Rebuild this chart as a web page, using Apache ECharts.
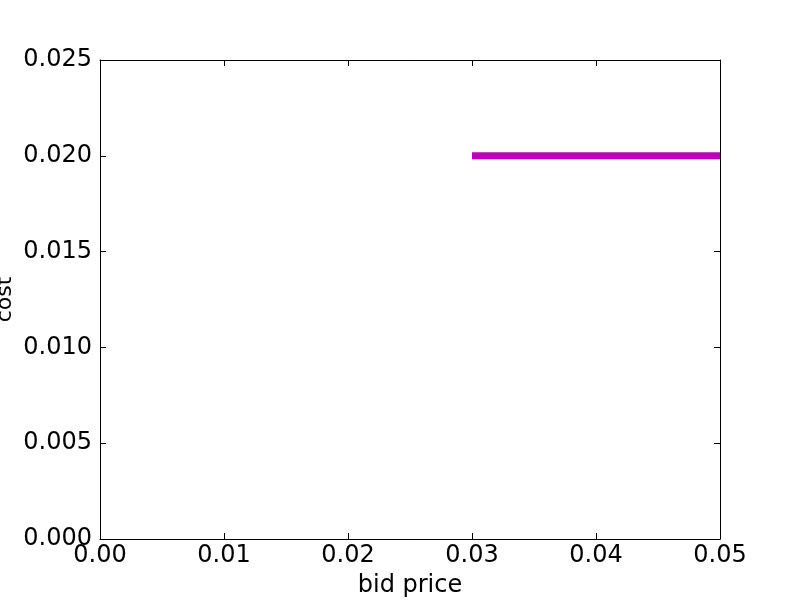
<!DOCTYPE html>
<html>
<head>
<meta charset="utf-8">
<script src="https://cdn.jsdelivr.net/npm/echarts@6/dist/echarts.min.js"></script>
<style>
  html, body { margin: 0; padding: 0; background: #fff; }
  #chart { width: 800px; height: 600px; }
</style>
</head>
<body>
<div id="chart"></div>
<script>
// 数据：出价 vs 成本
const bidPrice = [0.03, 0.05]
const cost = [0.02, 0.02]

const xRange = [0, 0.05]
const yRange = [0, 0.025]
const xStep = 0.01
const yStep = 0.005

const font = 'DejaVu Sans'
const fontSize = 24

const chart = echarts.init(document.getElementById('chart'))

// 主坐标轴与镜像坐标轴（上、右只画刻度）
const axisCommon = {
  axisLine: { show: true, onZero: false, lineStyle: { color: '#000', width: 1 } },
  axisTick: { show: true, inside: true, length: 6, lineStyle: { color: '#000', width: 1 } },
  splitLine: { show: false }
}

const option = {
  animation: false,
  backgroundColor: '#fff',
  grid: { left: 100, right: 80, top: 60, bottom: 61, containLabel: false, outerBoundsMode: 'none' },
  xAxis: [
    {
      type: 'value',
      min: xRange[0],
      max: xRange[1],
      interval: xStep,
      name: 'bid price',
      nameLocation: 'middle',
      nameGap: 35,
      nameMoveOverlap: false,
      nameTextStyle: { fontFamily: font, fontSize: fontSize, color: '#000' },
      axisLabel: {
        fontFamily: font, fontSize: fontSize, color: '#000', margin: 5,
        formatter: v => v.toFixed(2)
      },
      ...axisCommon
    },
    {
      type: 'value',
      position: 'top',
      min: xRange[0],
      max: xRange[1],
      interval: xStep,
      axisLabel: { show: false },
      ...axisCommon
    }
  ],
  yAxis: [
    {
      type: 'value',
      min: yRange[0],
      max: yRange[1],
      interval: yStep,
      name: 'cost',
      nameLocation: 'middle',
      nameGap: 84,
      nameRotate: 90,
      nameMoveOverlap: false,
      nameTextStyle: { fontFamily: font, fontSize: 22, color: '#000' },
      axisLabel: {
        fontFamily: font, fontSize: fontSize, color: '#000', margin: 8,
        formatter: v => v.toFixed(3)
      },
      ...axisCommon
    },
    {
      type: 'value',
      position: 'right',
      min: yRange[0],
      max: yRange[1],
      interval: yStep,
      axisLabel: { show: false },
      ...axisCommon
    }
  ],
  series: [{
    type: 'line',
    data: bidPrice.map((x, i) => [x, cost[i]]),
    symbol: 'none',
    clip: true,
    lineStyle: { color: '#bf00bf', width: 7, cap: 'butt' }
  }]
}

chart.setOption(option)
</script>
</body>
</html>
